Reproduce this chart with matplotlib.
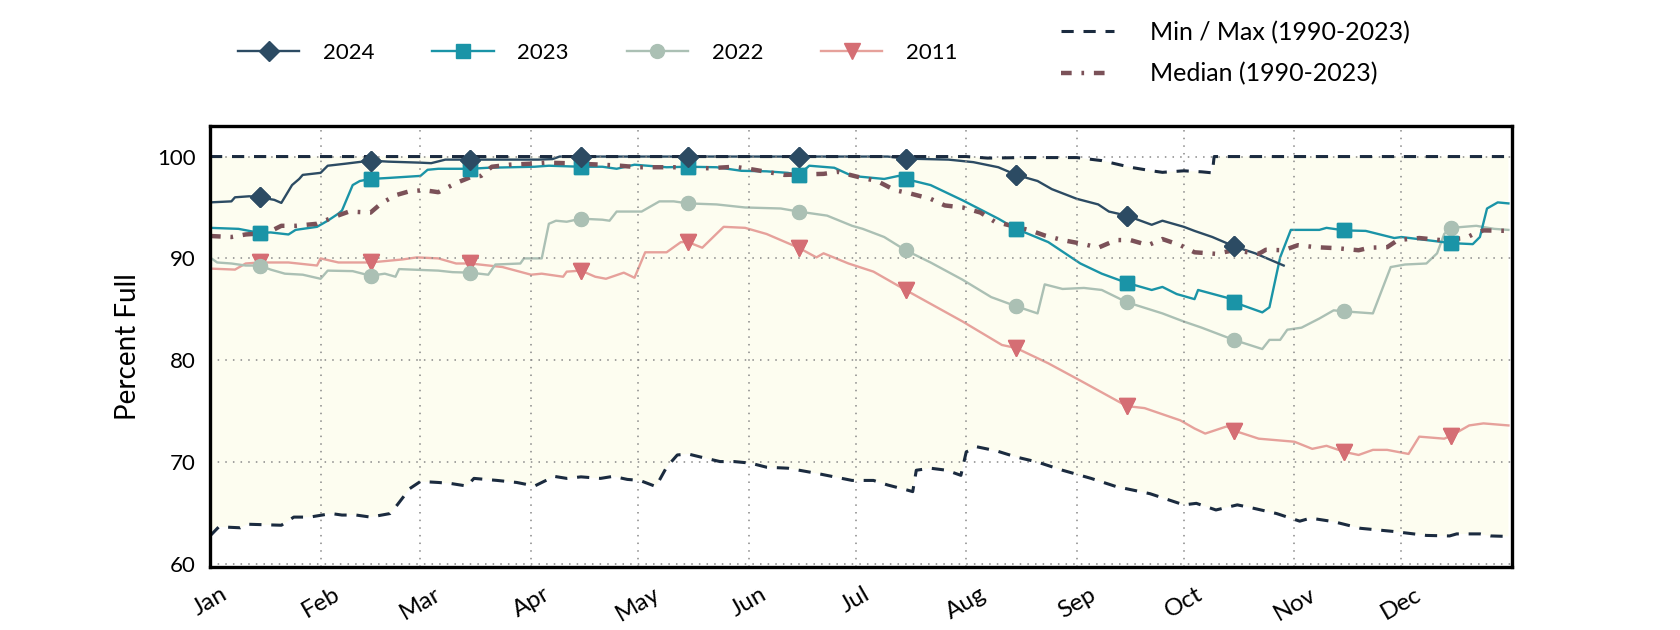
import numpy as np
import matplotlib
matplotlib.use('Agg')
import matplotlib.pyplot as plt

plt.rcParams['font.family'] = ['Lato', 'DejaVu Sans']

# day of year -> percent full
days2024 = [0, 6, 7, 11, 14, 18, 20, 23, 25, 26, 31, 33, 38, 45, 50, 59, 62, 66, 73, 92, 96, 98,
            104, 134, 165, 190, 195, 207, 214, 221, 226, 232, 236, 243, 249, 252, 257, 264, 267,
            273, 276, 281, 287, 293, 301]
pct2024 = [95.5, 95.6, 96.0, 96.1, 96.0, 95.75, 95.45, 97.2, 97.8, 98.2, 98.4, 99.1, 99.3, 99.6, 99.5,
           99.4, 99.35, 99.7, 99.7, 99.7, 99.75, 100.0, 100.0, 100.0, 100.0, 100.0, 99.8, 99.7, 99.45,
           98.95, 98.2, 97.6, 96.8, 95.85, 95.3, 94.6, 94.2, 93.3, 93.7, 93.1, 92.7, 92.1, 91.2, 90.5,
           89.3]

days2023 = [0, 8, 14, 17, 22, 24, 30, 33, 36, 37, 40, 42, 45, 50, 59, 61, 64, 73, 78, 91, 95, 104,
            110, 114, 119, 128, 134, 142, 149, 156, 162, 165, 168, 175, 180, 186, 189, 193, 195, 202,
            211, 221, 226, 235, 244, 250, 257, 264, 267, 271, 276, 277, 286, 287, 295, 297, 300, 303,
            311, 313, 318, 324, 332, 334, 341, 348, 354, 356, 358, 361, 364]
pct2023 = [93.0, 92.9, 92.5, 92.55, 92.35, 92.8, 93.1, 93.7, 94.4, 94.7, 97.2, 97.6, 97.8, 97.9, 98.1,
           98.7, 98.8, 98.8, 98.9, 99.0, 99.1, 99.0, 99.0, 98.8, 99.2, 98.95, 99.0, 98.95, 98.6, 98.55,
           98.4, 98.2, 99.1, 98.9, 98.1, 97.9, 97.8, 98.1, 97.8, 97.2, 95.7, 93.9, 92.9, 91.6, 89.5,
           88.5, 87.6, 86.9, 87.2, 86.5, 86.0, 86.9, 86.05, 85.7, 84.7, 85.2, 90.1, 92.8, 92.8, 93.0,
           92.75, 92.7, 92.0, 92.1, 91.8, 91.5, 91.4, 92.1, 94.9, 95.5, 95.4]

days2022 = [0, 2, 6, 10, 14, 17, 21, 26, 31, 33, 40, 45, 49, 52, 53, 64, 68, 73, 78, 80, 87, 88, 93,
            95, 97, 100, 104, 110, 112, 114, 121, 126, 130, 134, 142, 150, 160, 165, 173, 180, 183,
            189, 195, 202, 211, 219, 226, 232, 234, 239, 245, 250, 257, 267, 273, 278, 287, 295, 297,
            300, 302, 306, 311, 315, 318, 326, 331, 335, 341, 344, 346, 348, 355, 360, 364]
pct2022 = [90.1, 89.6, 89.5, 89.3, 89.3, 88.9, 88.5, 88.4, 88.0, 88.8, 88.75, 88.3, 88.5, 88.2, 88.95,
           88.8, 88.65, 88.6, 88.4, 89.4, 89.5, 90.0, 90.0, 93.4, 93.7, 93.6, 93.9, 93.8, 93.7, 94.6,
           94.6, 95.6, 95.6, 95.4, 95.3, 95.0, 94.9, 94.6, 94.2, 93.2, 92.9, 92.1, 90.8, 89.6, 87.9,
           86.2, 85.3, 84.6, 87.45, 87.0, 87.1, 86.9, 85.7, 84.6, 83.8, 83.2, 82.0, 81.1, 82.0, 82.0,
           83.0, 83.2, 84.1, 84.9, 84.8, 84.6, 89.15, 89.4, 89.5, 90.5, 92.4, 93.0, 93.2, 92.9, 92.8]

days2011 = [0, 7, 10, 14, 22, 30, 31, 36, 45, 54, 58, 64, 69, 73, 82, 90, 93, 99, 100, 104, 108, 111,
            116, 119, 122, 128, 132, 134, 138, 144, 150, 156, 165, 170, 172, 179, 186, 195, 211, 222,
            226, 235, 244, 257, 262, 272, 276, 279, 285, 287, 294, 304, 309, 313, 318, 322, 326, 330,
            336, 339, 346, 348, 353, 357, 364]
pct2011 = [89.0, 88.9, 89.5, 89.6, 89.6, 89.3, 90.0, 89.6, 89.6, 89.9, 90.1, 90.0, 89.5, 89.5, 89.15,
           88.4, 88.5, 88.2, 88.7, 88.8, 88.2, 88.0, 88.6, 88.1, 90.6, 90.6, 91.6, 91.6, 91.05, 93.1,
           93.0, 92.4, 91.05, 90.1, 90.5, 89.5, 88.7, 86.9, 83.8, 81.5, 81.2, 79.7, 78.0, 75.5, 75.3,
           74.1, 73.3, 72.8, 73.5, 73.1, 72.3, 72.0, 71.3, 71.6, 71.0, 70.7, 71.2, 71.2, 70.8, 72.5,
           72.3, 72.6, 73.6, 73.8, 73.6]

daysMedian = [0, 6, 10, 16, 20, 24, 30, 35, 39, 45, 48, 52, 56, 60, 64, 69, 73, 76, 79, 84, 90, 94,
              100, 110, 115, 120, 130, 140, 147, 151, 156, 161, 172, 176, 182, 187, 192, 196, 202,
              206, 211, 216, 220, 230, 234, 239, 245, 249, 254, 258, 263, 267, 272, 276, 282, 287,
              294, 296, 301, 305, 310, 316, 322, 325, 330, 333, 339, 345, 352, 354, 357, 364]
pctMedian = [92.2, 92.1, 92.35, 92.5, 93.2, 93.2, 93.4, 94.1, 94.6, 94.5, 95.4, 96.2, 96.6, 96.7, 96.5,
             97.4, 97.97, 98.1, 99.0, 99.2, 99.3, 99.4, 99.35, 99.2, 99.1, 98.95, 98.95, 98.85, 99.0,
             98.8, 98.5, 98.2, 98.3, 98.5, 97.97, 97.6, 96.7, 96.4, 95.85, 95.2, 95.0, 94.5, 93.6,
             92.75, 92.25, 91.8, 91.4, 91.05, 91.8, 91.8, 91.3, 91.9, 91.3, 90.6, 90.45, 90.8, 90.45,
             90.85, 90.8, 91.3, 91.1, 91.0, 90.8, 91.05, 91.1, 91.8, 92.0, 91.8, 92.0, 92.35, 92.75,
             92.7]

daysMax = [0, 212, 218, 228, 243, 250, 258, 264, 267, 273, 278, 281, 281.5, 364]
pctMax = [100.0, 100.0, 99.85, 99.9, 99.9, 99.6, 98.95, 98.6, 98.45, 98.6, 98.5, 98.4, 100.0, 100.0]

daysMin = [0, 2.5, 8.5, 10.5, 20, 23.5, 28, 34, 37, 41, 45, 50.5, 52.5, 56, 59, 64, 67.5, 72, 74, 80.5,
           86, 91, 96.5, 100, 104, 109.5, 113, 117, 120.5, 125, 128, 131, 134, 137.5, 143, 147, 151.5,
           156, 162, 170, 180, 186, 190, 195.5, 197, 198, 202, 206.5, 210.5, 212, 215, 220.5, 226, 232,
           239, 247, 254, 263.5, 273, 276.5, 282, 288, 291.5, 299, 305.5, 308.5, 315, 322.5, 331.5,
           341, 347.5, 349.5, 356, 359, 364]
pctMin = [62.75, 63.65, 63.55, 63.9, 63.8, 64.6, 64.6, 64.95, 64.8, 64.8, 64.6, 64.95, 65.8, 67.4, 68.1,
          68.0, 67.9, 67.65, 68.4, 68.2, 68.0, 67.65, 68.6, 68.4, 68.55, 68.4, 68.6, 68.3, 68.2, 67.6,
          69.5, 70.7, 70.8, 70.5, 70.05, 70.05, 69.9, 69.5, 69.4, 68.9, 68.2, 68.2, 67.75, 67.25, 67.1,
          69.2, 69.4, 69.2, 68.7, 71.0, 71.5, 71.1, 70.5, 70.0, 69.2, 68.4, 67.6, 66.9, 65.8, 65.95,
          65.3, 65.8, 65.55, 64.95, 64.2, 64.5, 64.15, 63.5, 63.2, 62.8, 62.75, 62.95, 62.95, 62.75,
          62.7]

markerDays = [14, 45, 73, 104, 134, 165, 195, 226, 257, 287, 318, 348]
monthStarts = [0, 31, 59, 90, 120, 151, 181, 212, 243, 273, 304, 334]
monthNames = ['Jan', 'Feb', 'Mar', 'Apr', 'May', 'Jun', 'Jul', 'Aug', 'Sep', 'Oct', 'Nov', 'Dec']

fig = plt.figure(figsize=(16.8, 6.3), dpi=100)
ax1 = fig.add_subplot(1, 1, 1)
fig.subplots_adjust(left=0.125, right=0.9, bottom=0.1, top=0.8)

# shaded envelope between min and max
ax1.fill(daysMax + daysMin[::-1], pctMax + pctMin[::-1], color='#fdfdf0', zorder=1, lw=0)

series = [
    ('2011', days2011, pct2011, '#e6a19b', '#d56e74', 'v', 11),
    ('2022', days2022, pct2022, '#abc0b4', '#abc0b4', 'o', 10),
    ('2023', days2023, pct2023, '#1a94a7', '#1a94a7', 's', 10),
    ('2024', days2024, pct2024, '#2c4b63', '#2c4b63', 'D', 10),
]
handles = {}
for name, d, p, lc, mc, mk, ms in series:
    idx = [i for i, day in enumerate(d) if day in markerDays]
    ln, = ax1.plot(d, p, color=lc, lw=1.7, zorder=2, marker=mk, markersize=ms,
                   markevery=idx, markerfacecolor=mc, markeredgecolor=mc)
    ax1.plot([d[i] for i in idx], [p[i] for i in idx], ls='none', marker=mk, markersize=ms,
             color=mc, zorder=5)
    handles[name] = ln

mm, = ax1.plot(daysMax, pctMax, color='#1b2b3f', lw=2.2, ls=(0, (4, 3.2)), zorder=3,
               label='Min / Max (1990-2023)')
ax1.plot(daysMin, pctMin, color='#1b2b3f', lw=2.2, ls=(0, (4, 3.2)), zorder=3)
med, = ax1.plot(daysMedian, pctMedian, color='#7b5158', lw=3.2, ls=(0, (2.4, 2.2, 0.6, 2.2)),
                zorder=3, label='Median (1990-2023)')

ax1.set_xlim(0, 365)
ax1.set_ylim(59.7, 103)
ax1.set_yticks([60, 70, 80, 90, 100])
ax1.set_xticks(monthStarts)
ax1.set_xticklabels(monthNames, rotation=30, ha='center')
ax1.tick_params(axis='both', length=0)
ax1.tick_params(axis='x', pad=12, labelsize=17.5)
ax1.tick_params(axis='y', pad=10, labelsize=16)
ax1.grid(True, color='#888888', lw=1.1, ls=(0, (1, 4)))
ax1.set_axisbelow(False)
for sp in ax1.spines.values():
    sp.set_linewidth(2.4)
    sp.set_color('black')
    sp.set_zorder(6)
ax1.set_ylabel('Percent Full', fontsize=20, labelpad=12)

leg1 = fig.legend([handles[k] for k in ['2024', '2023', '2022', '2011']],
                  ['2024', '2023', '2022', '2011'], ncol=4, frameon=False, fontsize=16,
                  loc='center left', bbox_to_anchor=(238 / 1680, 1 - 53 / 630),
                  handlelength=2.75, handletextpad=1.08, columnspacing=2.6,
                  borderpad=0, borderaxespad=0)
leg2 = fig.legend([mm, med], ['Min / Max (1990-2023)', 'Median (1990-2023)'], frameon=False,
                  fontsize=18, loc='center left', bbox_to_anchor=(1061 / 1680, 1 - 53 / 630),
                  handlelength=2.1, handletextpad=1.45, labelspacing=0.72,
                  borderpad=0, borderaxespad=0)

fig.savefig('out.png', dpi=100)
